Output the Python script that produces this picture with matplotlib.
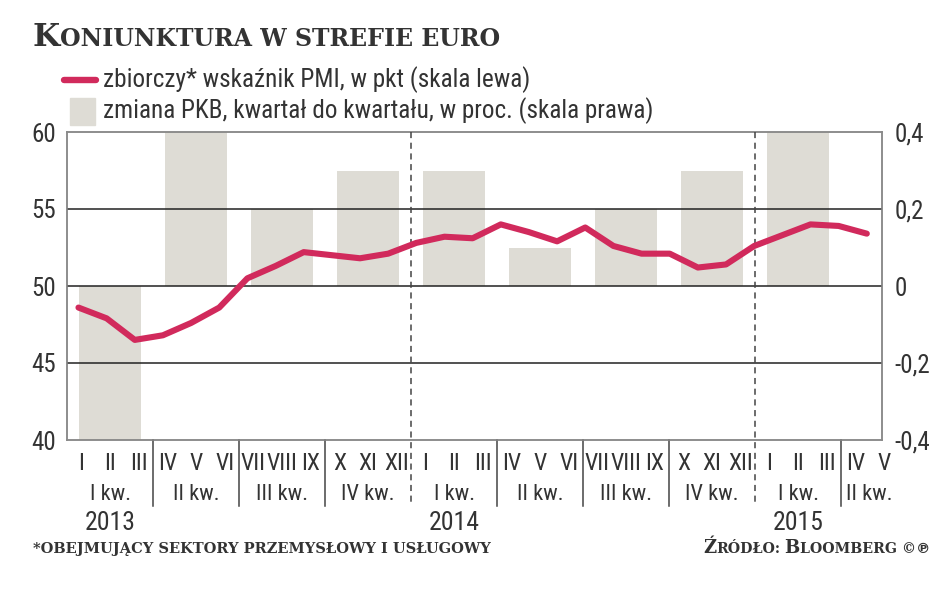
import matplotlib
matplotlib.use('Agg')
import matplotlib.pyplot as plt
import numpy as np
from matplotlib import font_manager
from matplotlib.lines import Line2D
from matplotlib.patches import Rectangle

# dane
pmi = [48.6, 47.9, 46.5, 46.8, 47.6, 48.6, 50.5, 51.3, 52.2, 52.0, 51.8, 52.1,
       52.8, 53.2, 53.1, 54.0, 53.5, 52.9, 53.8, 52.6, 52.1, 52.1, 51.2, 51.4,
       52.6, 53.3, 54.0, 53.9, 53.4]
pkb = [-0.4, 0.4, 0.2, 0.3, 0.3, 0.1, 0.2, 0.3, 0.4]
miesiace = ['I', 'II', 'III', 'IV', 'V', 'VI', 'VII', 'VIII', 'IX', 'X', 'XI', 'XII'] * 2 + \
           ['I', 'II', 'III', 'IV', 'V']
kwartaly = ['I kw.', 'II kw.', 'III kw.', 'IV kw.'] * 2 + ['I kw.', 'II kw.']
lata = ['2013', '2014', '2015']
lewa_ticks = [40, 45, 50, 55, 60]
prawa_ticks = [-0.4, -0.2, 0, 0.2, 0.4]
prawa_labels = ['-0,4', '-0,2', '0', '0,2', '0,4']

# waska czcionka jesli jest
dostepne = {f.name for f in font_manager.fontManager.ttflist}
waskie = [f for f in ['Liberation Sans Narrow', 'Roboto Condensed', 'Open Sans Condensed']
          if f in dostepne]
NARROW = waskie + ['DejaVu Sans']
SLAB = 'DejaVu Serif'
PINK = '#d12a5c'
GRAY_BAR = '#dedcd5'
TXT = '#333333'

plt.rcParams['font.family'] = NARROW
plt.rcParams['font.stretch'] = 'condensed'

fig = plt.figure(figsize=(9.48, 5.93), dpi=100)
W, H = 948, 593
ax = fig.add_axes([67 / W, 1 - 440 / H, 815 / W, 308 / H])
ax2 = ax.twinx()
ax.set_zorder(ax2.get_zorder() + 1)
ax.patch.set_visible(False)

n_m = len(pmi)
xlim = (0, 28.43)

# slupki PKB (prawa skala)
xq = np.arange(len(pkb)) * 3 + 1.5
ax2.bar(xq, pkb, width=2.16, color=GRAY_BAR, zorder=1)
ax2.set_ylim(-0.4, 0.4)
ax2.set_yticks(prawa_ticks)
ax2.set_yticklabels(prawa_labels)

# linia PMI (lewa skala)
xm = np.linspace(0.4, 27.9, n_m)
ax.plot(xm, pmi, color=PINK, lw=4.4, solid_capstyle='round', solid_joinstyle='round', zorder=5)
ax.set_ylim(40, 60)
ax.set_xlim(*xlim)
ax2.set_xlim(*xlim)
ax.set_yticks(lewa_ticks)
for v in lewa_ticks[1:-1]:
    ax.axhline(v, color='#222222', lw=1.1, zorder=2)

for a in (ax, ax2):
    for s in a.spines.values():
        s.set_color('#8a8a8a')
        s.set_linewidth(1.1)
    a.tick_params(length=0, labelsize=18, colors=TXT)
    a.set_xticks([])
ax.tick_params(axis='y', pad=8)
ax2.tick_params(axis='y', pad=9)

# podzialy pod osia
tr = ax.get_xaxis_transform()
for i in range(1, len(kwartaly)):
    x = i * 3
    if x % 12 == 0:
        ax.plot([x, x], [1, -0.215], transform=tr, color='#444444', lw=1.1,
                ls=(0, (4, 3)), clip_on=False, zorder=3)
    else:
        ax.plot([x, x], [0, -0.215], transform=tr, color='#444444', lw=1.1,
                clip_on=False)

for i, lab in enumerate(miesiace):
    ax.text(i + 0.5, -0.075, lab, transform=tr, ha='center', va='center',
            fontsize=17, color=TXT, clip_on=False)
for q, lab in enumerate(kwartaly):
    ms = [m + 0.5 for m in range(q * 3, min(q * 3 + 3, len(miesiace)))]
    ax.text(np.mean(ms), -0.178, lab, transform=tr, ha='center', va='center',
            fontsize=16, color=TXT, clip_on=False)
for k, lab in enumerate(lata):
    ax.text(k * 12 + 1.5, -0.27, lab, transform=tr, ha='center', va='center',
            fontsize=18.5, color=TXT, clip_on=False)

# legenda
fig.add_artist(Line2D([64 / W, 96 / W], [1 - 80 / H, 1 - 80 / H], color=PINK, lw=4.6,
                      solid_capstyle='round'))
fig.add_artist(Rectangle((70 / W, 1 - 125 / H), 25 / W, 27 / H, color=GRAY_BAR))
fig.text(103 / W, 1 - 80 / H, 'zbiorczy* wskaźnik PMI, w pkt (skala lewa)', fontsize=18.2,
         color=TXT, va='center')
fig.text(103 / W, 1 - 111 / H, 'zmiana PKB, kwartał do kwartału, w proc. (skala prawa)',
         fontsize=18.2, color=TXT, va='center')

# kapitaliki
renderer = fig.canvas.get_renderer()


def kapitaliki(x, y, s, big, small, ha='left'):
    runs = []
    for ch in s:
        size = big if (ch.isalpha() and ch.isupper()) else small
        if runs and runs[-1][1] == size:
            runs[-1][0] += ch
        else:
            runs.append([ch, size])
    arts = []
    cx = x
    for txt, size in runs:
        gap = 0
        core = txt.rstrip(' ')
        if len(core) < len(txt):
            gap = 0.32 * size * 100 / 72 * (len(txt) - len(core))
        lead = len(core) - len(core.lstrip(' '))
        cx += 0.32 * size * 100 / 72 * lead
        core = core.lstrip(' ')
        t = fig.text(cx / W, 1 - y / H, core.upper(), fontsize=size,
                     family=[SLAB, 'DejaVu Sans'], stretch='normal',
                     weight='bold', color=TXT, va='baseline')
        bb = t.get_window_extent(renderer)
        cx = cx + bb.width + gap
        arts.append(t)
    if ha == 'right':
        shift = cx - x
        for t in arts:
            px, py = t.get_position()
            t.set_position((px - shift / W, py))
    return arts


kapitaliki(33, 46, 'Koniunktura w strefie euro', 22.5, 17)
kapitaliki(33, 553, '*obejmujący sektory przemysłowy i usługowy', 11.5, 10.5)
kapitaliki(930, 553, 'Źródło: Bloomberg ©℗', 13, 10.2, ha='right')

fig.savefig('out.png', dpi=100)
